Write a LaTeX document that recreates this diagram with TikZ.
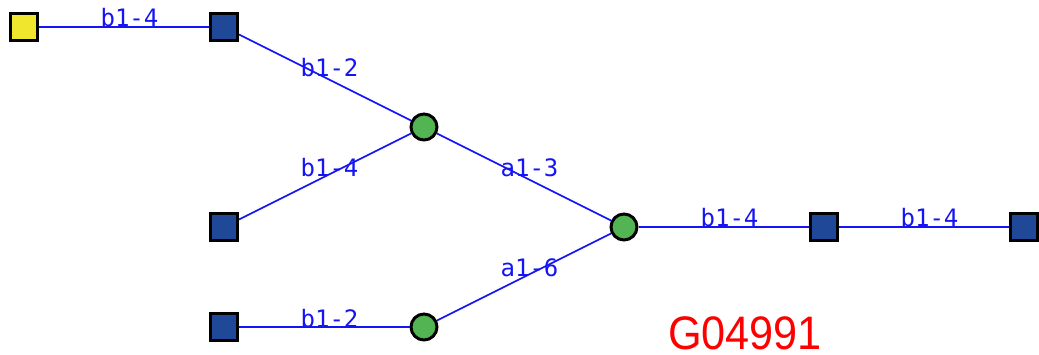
\documentclass[tikz,border=0pt]{standalone}
\usepackage{fontspec}
\newfontfamily\monof{DejaVu Sans Mono}
\newfontfamily\labf[FakeStretch=0.92]{Liberation Sans}
\definecolor{sqblue}{RGB}{32,72,152}
\definecolor{cgreen}{RGB}{82,180,82}
\definecolor{syellow}{RGB}{240,230,45}
\definecolor{lblue}{RGB}{20,20,245}
\begin{document}
\begin{tikzpicture}[x=1pt,y=-1pt,
  sq/.style={draw=black,line width=3pt,minimum size=27pt,inner sep=0pt,rectangle},
  bsq/.style={sq,fill=sqblue},
  ysq/.style={sq,fill=syellow},
  gc/.style={draw=black,line width=3pt,circle,minimum size=26pt,inner sep=0pt,fill=cgreen},
  lnk/.style={draw=lblue,line width=1.6pt},
  elab/.style={text=lblue,font=\monof\fontsize{24}{24}\selectfont,inner sep=0pt,anchor=base}]
\useasboundingbox (0,0) rectangle (1039,355);
\node[ysq] (y1) at (24,27) {};
\node[bsq] (b1) at (224,27) {};
\node[gc]  (g1) at (424,127) {};
\node[bsq] (b2) at (224,227) {};
\node[gc]  (g2) at (624,227) {};
\node[bsq] (b3) at (824,227) {};
\node[bsq] (b4) at (1024,227) {};
\node[bsq] (b5) at (224,327) {};
\node[gc]  (g3) at (424,327) {};
\begin{scope}[on background layer/.style={}]
\end{scope}
\draw[lnk] (y1) -- (b1);
\draw[lnk] (b1) -- (g1);
\draw[lnk] (b2) -- (g1);
\draw[lnk] (g1) -- (g2);
\draw[lnk] (g3) -- (g2);
\draw[lnk] (b5) -- (g3);
\draw[lnk] (g2) -- (b3);
\draw[lnk] (b3) -- (b4);
\node[elab] (l1) at (129.5,27) {b1-4};
\node[elab] (l2) at (329.5,77) {b1-2};
\node[elab] (l3) at (329.5,177) {b1-4};
\node[elab] (l4) at (529.5,177) {a1-3};
\node[elab] (l5) at (529.5,277) {a1-6};
\node[elab] (l6) at (729.5,227) {b1-4};
\node[elab] (l7) at (929.5,227) {b1-4};
\node[elab] (l8) at (329.5,327) {b1-2};
\node[text=red,font=\labf\fontsize{47}{47}\selectfont,inner sep=0pt,anchor=base] (gid) at (745,349) {G04991};
\end{tikzpicture}
\end{document}
